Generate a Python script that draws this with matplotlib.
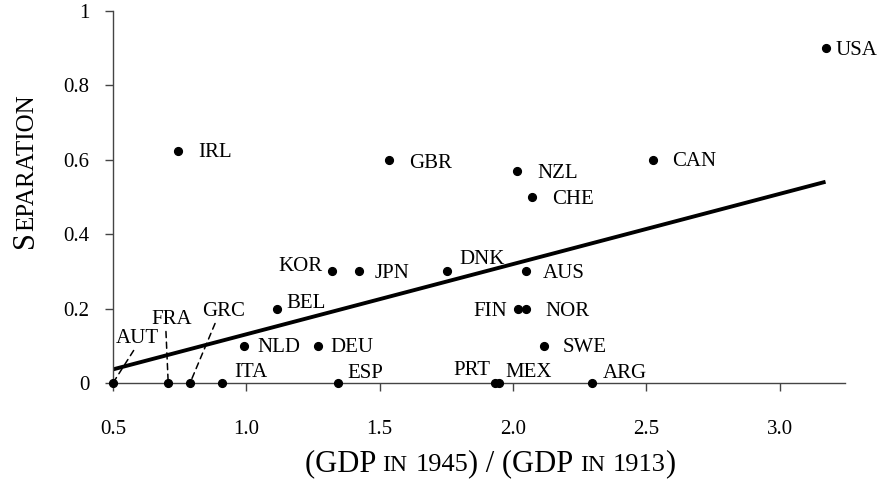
import matplotlib
matplotlib.use('Agg')
import matplotlib.pyplot as plt
import numpy as np

plt.rcParams['font.family'] = ['Liberation Serif', 'DejaVu Serif']

# data
countries = ['USA', 'IRL', 'GBR', 'NZL', 'CHE', 'CAN', 'KOR', 'JPN', 'DNK', 'AUS',
             'BEL', 'NLD', 'DEU', 'FIN', 'NOR', 'SWE', 'AUT', 'FRA', 'GRC', 'ITA',
             'ESP', 'PRT', 'MEX', 'ARG']
gdp_ratio = [3.172, 0.745, 1.536, 2.016, 2.070, 2.524, 1.320, 1.422, 1.751, 2.047,
             1.114, 0.993, 1.270, 2.019, 2.048, 2.115, 0.500, 0.707, 0.789, 0.910,
             1.343, 1.932, 1.947, 2.296]
separation = [0.9, 0.625, 0.6, 0.571, 0.5, 0.6, 0.3, 0.3, 0.3, 0.3,
              0.2, 0.1, 0.1, 0.2, 0.2, 0.1, 0.0, 0.0, 0.0, 0.0,
              0.0, 0.0, 0.0, 0.0]

x_ticks = [0.5, 1.0, 1.5, 2.0, 2.5, 3.0]
x_tick_labels = ['0.5', '1.0', '1.5', '2.0', '2.5', '3.0']
y_ticks = [0, 0.2, 0.4, 0.6, 0.8, 1.0]
y_tick_labels = ['0', '0.2', '0.4', '0.6', '0.8', '1']

# label placement: (dx px, dy px of cap centre, ha)
label_pos = {
    'USA': (10, 0, 'left'), 'IRL': (20, 0, 'left'), 'GBR': (20, -1, 'left'),
    'NZL': (20, -1, 'left'), 'CHE': (20, 0, 'left'), 'CAN': (19, 0, 'left'),
    'KOR': (-9, 7, 'right'), 'JPN': (16, 0, 'left'), 'DNK': (13, 14, 'left'),
    'AUS': (17, 0, 'left'), 'BEL': (10, 7, 'left'), 'NLD': (13, 0, 'left'),
    'DEU': (12, 0, 'left'), 'FIN': (-11, -1, 'right'), 'NOR': (20, -1, 'left'),
    'SWE': (19, 0, 'left'), 'ITA': (12, 13, 'left'), 'ESP': (10, 12, 'left'),
    'PRT': (-4, 15, 'right'), 'MEX': (7, 13, 'left'), 'ARG': (11, 12, 'left'),
    'AUT': (3, 47, 'left'), 'FRA': (-17, 66, 'left'), 'GRC': (12, 74, 'left'),
}
# labels joined to their dot by a dashed leader: relpos on the label box
leaders = {'AUT': (0.45, 0.0), 'FRA': (0.36, 0.0), 'GRC': (0.33, 0.0)}

W, H = 881, 479
fig = plt.figure(figsize=(W / 100, H / 100), dpi=100)
ax = fig.add_axes([113 / W, (H - 383) / H, (845 - 113) / W, (383 - 11) / H])

# regression line over the observed range
slope, icpt = np.polyfit(gdp_ratio, separation, 1)
xl = np.array([min(gdp_ratio), max(gdp_ratio)])
ax.plot(xl, icpt + slope * xl, color='black', lw=2.8, solid_capstyle='butt', zorder=2)

ax.plot(gdp_ratio, separation, 'o', color='black', ms=5.6, clip_on=False, zorder=4)

px = 0.72  # points per pixel
cap_half = 6.7
for c, xv, yv in zip(countries, gdp_ratio, separation):
    dx, dy, ha = label_pos[c]
    kw = {}
    if c in leaders:
        kw['arrowprops'] = dict(arrowstyle='-', color='black', lw=1.1,
                                linestyle=(0, (4, 3)), relpos=leaders[c],
                                shrinkA=0, shrinkB=2)
    ax.annotate(c, (xv, yv), xytext=(dx * px, (dy - cap_half) * px),
                textcoords='offset points', ha=ha, va='baseline',
                fontsize=15, color='black', zorder=5, **kw)

ax.set_xlim(0.5, 3.245)
ax.set_ylim(0, 1)
ax.set_xticks(x_ticks)
ax.set_xticklabels(x_tick_labels)
ax.set_yticks(y_ticks)
ax.set_yticklabels(y_tick_labels)
for s in ['top', 'right']:
    ax.spines[s].set_visible(False)
for s in ['left', 'bottom']:
    ax.spines[s].set_color('#444444')
    ax.spines[s].set_linewidth(1.0)
ax.tick_params(axis='x', direction='out', length=6, width=1, color='#444444',
               labelsize=15, pad=21)
ax.tick_params(axis='y', direction='out', length=6, width=1, color='#444444',
               labelsize=15, pad=11)


def text_width(s, size, renderer):
    t1 = fig.text(0, 0, 'x' + s + 'x', fontsize=size)
    t2 = fig.text(0, 0, 'xx', fontsize=size)
    w = t1.get_window_extent(renderer).width - t2.get_window_extent(renderer).width
    t1.remove()
    t2.remove()
    return w


def small_caps(pieces, x0, y0, vertical=False, center=False):
    # x0, y0 in pixels from top-left; baseline start (or centre)
    renderer = fig.canvas.get_renderer()
    widths = [text_width(s, size, renderer) for s, size in pieces]
    pos = -sum(widths) / 2 if center else 0
    for (s, size), w in zip(pieces, widths):
        if vertical:
            xx, yy, rot = x0, y0 - pos, 90
        else:
            xx, yy, rot = x0 + pos, y0, 0
        fig.text(xx / W, (H - yy) / H, s, fontsize=size, rotation=rot,
                 rotation_mode='anchor', ha='left', va='baseline', color='black')
        pos += w


small_caps([('(GDP ', 22), ('IN', 17), (' ', 22), ('1945', 19),
            (') / (GDP ', 22), ('IN', 17), (' ', 22), ('1913', 19), (')', 22)],
           490, 471, center=True)
small_caps([('S', 22), ('EPARATION', 18)], 33, 171, vertical=True, center=True)

fig.savefig('out.png', dpi=100)
